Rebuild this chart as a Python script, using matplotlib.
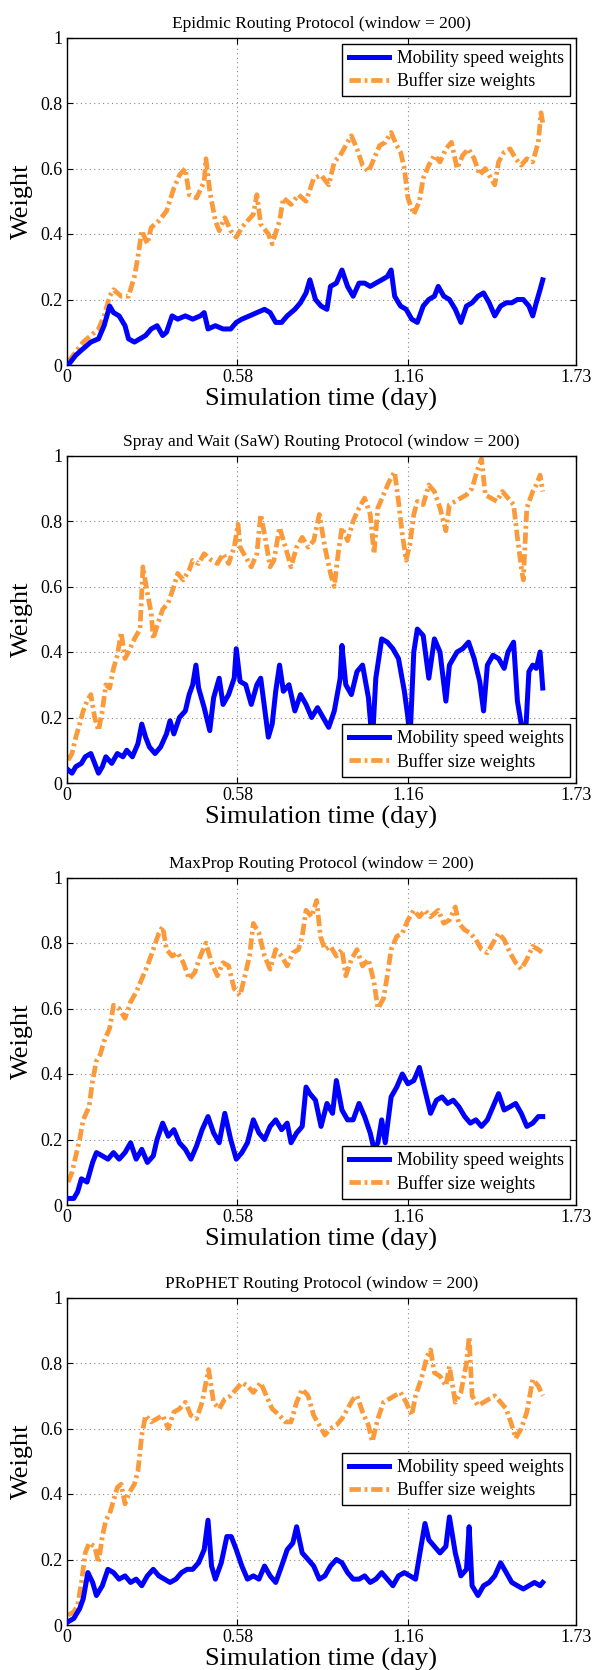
import matplotlib
matplotlib.use("Agg")
import matplotlib.pyplot as plt

# ---------------- data (time in days, weight) ----------------
titles = [
    "Epidmic Routing Protocol (window = 200)",
    "Spray and Wait (SaW) Routing Protocol (window = 200)",
    "MaxProp Routing Protocol (window = 200)",
    "PRoPHET Routing Protocol (window = 200)",
]
series_labels = ["Mobility speed weights", "Buffer size weights"]
x_ticks = [0, 0.58, 1.16, 1.73]
y_ticks = [0, 0.2, 0.4, 0.6, 0.8, 1.0]
y_tick_labels = ["0", "0.2", "0.4", "0.6", "0.8", "1"]

epi_mobility = [
    (0.005, 0.00), (0.031, 0.03), (0.056, 0.05), (0.082, 0.07), (0.108, 0.08), (0.127, 0.12),
    (0.146, 0.18), (0.159, 0.16), (0.178, 0.15), (0.198, 0.12), (0.210, 0.08), (0.230, 0.07),
    (0.249, 0.08), (0.268, 0.09), (0.287, 0.11), (0.307, 0.12), (0.326, 0.09), (0.339, 0.10),
    (0.358, 0.15), (0.377, 0.14), (0.403, 0.15), (0.428, 0.14), (0.454, 0.15), (0.467, 0.16),
    (0.480, 0.11), (0.505, 0.12), (0.531, 0.11), (0.557, 0.11), (0.576, 0.13), (0.595, 0.14),
    (0.621, 0.15), (0.646, 0.16), (0.672, 0.17), (0.691, 0.16), (0.710, 0.13), (0.730, 0.13),
    (0.749, 0.15), (0.775, 0.17), (0.794, 0.19), (0.813, 0.22), (0.826, 0.26), (0.845, 0.20),
    (0.864, 0.18), (0.884, 0.17), (0.896, 0.24), (0.916, 0.25), (0.935, 0.29), (0.954, 0.24),
    (0.973, 0.21), (0.993, 0.25), (1.012, 0.25), (1.031, 0.24), (1.050, 0.25), (1.070, 0.26),
    (1.089, 0.27), (1.102, 0.29), (1.114, 0.21), (1.134, 0.18), (1.153, 0.17), (1.172, 0.14),
    (1.191, 0.13), (1.211, 0.18), (1.230, 0.20), (1.249, 0.21), (1.262, 0.24), (1.281, 0.21),
    (1.300, 0.20), (1.320, 0.17), (1.339, 0.13), (1.358, 0.18), (1.377, 0.19), (1.397, 0.21),
    (1.416, 0.22), (1.435, 0.19), (1.454, 0.15), (1.474, 0.18), (1.493, 0.19), (1.512, 0.19),
    (1.531, 0.20), (1.551, 0.20), (1.570, 0.18), (1.583, 0.15), (1.595, 0.19), (1.608, 0.23),
    (1.617, 0.26),
]
epi_buffer = [
    (0.005, 0.01), (0.031, 0.04), (0.056, 0.07), (0.082, 0.09), (0.108, 0.11), (0.127, 0.15),
    (0.146, 0.21), (0.159, 0.23), (0.185, 0.21), (0.210, 0.21), (0.230, 0.27), (0.242, 0.33),
    (0.255, 0.41), (0.274, 0.37), (0.287, 0.42), (0.313, 0.44), (0.339, 0.47), (0.364, 0.54),
    (0.383, 0.58), (0.403, 0.60), (0.416, 0.52), (0.441, 0.51), (0.467, 0.56), (0.473, 0.63),
    (0.486, 0.53), (0.505, 0.44), (0.518, 0.41), (0.537, 0.45), (0.557, 0.41), (0.576, 0.39),
    (0.595, 0.42), (0.614, 0.44), (0.634, 0.46), (0.646, 0.52), (0.659, 0.43), (0.685, 0.40),
    (0.698, 0.37), (0.723, 0.44), (0.736, 0.51), (0.762, 0.49), (0.787, 0.52), (0.813, 0.50),
    (0.839, 0.57), (0.864, 0.58), (0.890, 0.55), (0.909, 0.62), (0.929, 0.64), (0.948, 0.67),
    (0.967, 0.70), (0.986, 0.66), (1.005, 0.61), (1.025, 0.59), (1.044, 0.63), (1.063, 0.67),
    (1.082, 0.68), (1.102, 0.71), (1.121, 0.67), (1.134, 0.65), (1.147, 0.60), (1.159, 0.51),
    (1.179, 0.46), (1.198, 0.50), (1.211, 0.57), (1.230, 0.61), (1.249, 0.64), (1.268, 0.62),
    (1.288, 0.66), (1.307, 0.68), (1.326, 0.60), (1.345, 0.64), (1.365, 0.66), (1.384, 0.63),
    (1.403, 0.58), (1.422, 0.60), (1.441, 0.57), (1.454, 0.55), (1.467, 0.62), (1.486, 0.65),
    (1.506, 0.66), (1.525, 0.63), (1.544, 0.61), (1.563, 0.63), (1.583, 0.62), (1.602, 0.68),
    (1.611, 0.77), (1.617, 0.74),
]

saw_mobility = [
    (0.005, 0.04), (0.018, 0.03), (0.031, 0.05), (0.050, 0.06), (0.063, 0.08), (0.082, 0.09),
    (0.095, 0.06), (0.108, 0.03), (0.121, 0.05), (0.133, 0.08), (0.153, 0.06), (0.172, 0.09),
    (0.191, 0.08), (0.204, 0.10), (0.223, 0.08), (0.242, 0.12), (0.255, 0.18), (0.268, 0.14),
    (0.281, 0.11), (0.300, 0.09), (0.319, 0.11), (0.339, 0.15), (0.351, 0.19), (0.364, 0.15),
    (0.383, 0.20), (0.403, 0.22), (0.416, 0.27), (0.428, 0.30), (0.439, 0.36), (0.448, 0.29),
    (0.467, 0.23), (0.486, 0.16), (0.499, 0.26), (0.518, 0.32), (0.531, 0.24), (0.550, 0.27),
    (0.569, 0.32), (0.576, 0.41), (0.589, 0.31), (0.608, 0.30), (0.627, 0.24), (0.646, 0.30),
    (0.659, 0.32), (0.672, 0.23), (0.685, 0.14), (0.698, 0.18), (0.710, 0.28), (0.723, 0.36),
    (0.736, 0.28), (0.755, 0.30), (0.775, 0.22), (0.794, 0.27), (0.813, 0.24), (0.832, 0.20),
    (0.852, 0.23), (0.871, 0.20), (0.890, 0.17), (0.909, 0.22), (0.929, 0.32), (0.935, 0.42),
    (0.948, 0.30), (0.967, 0.27), (0.986, 0.34), (1.005, 0.36), (1.025, 0.26), (1.038, 0.12),
    (1.050, 0.32), (1.070, 0.44), (1.089, 0.43), (1.108, 0.41), (1.127, 0.38), (1.147, 0.28),
    (1.159, 0.20), (1.166, 0.13), (1.179, 0.40), (1.191, 0.47), (1.211, 0.45), (1.230, 0.32),
    (1.249, 0.44), (1.268, 0.40), (1.288, 0.25), (1.300, 0.36), (1.326, 0.40), (1.345, 0.41),
    (1.365, 0.43), (1.384, 0.38), (1.403, 0.31), (1.416, 0.22), (1.429, 0.36), (1.448, 0.39),
    (1.467, 0.38), (1.486, 0.35), (1.499, 0.40), (1.518, 0.43), (1.531, 0.25), (1.544, 0.18),
    (1.557, 0.12), (1.570, 0.34), (1.583, 0.36), (1.595, 0.35), (1.608, 0.40), (1.617, 0.29),
]
saw_buffer = [
    (0.005, 0.07), (0.018, 0.09), (0.031, 0.14), (0.044, 0.18), (0.056, 0.22), (0.069, 0.25),
    (0.082, 0.27), (0.095, 0.20), (0.108, 0.16), (0.121, 0.22), (0.133, 0.30), (0.146, 0.29),
    (0.159, 0.35), (0.172, 0.39), (0.185, 0.46), (0.198, 0.38), (0.210, 0.40), (0.230, 0.44),
    (0.249, 0.47), (0.259, 0.66), (0.274, 0.58), (0.287, 0.52), (0.294, 0.44), (0.307, 0.48),
    (0.326, 0.53), (0.345, 0.55), (0.364, 0.60), (0.377, 0.64), (0.396, 0.62), (0.416, 0.65),
    (0.428, 0.68), (0.448, 0.67), (0.467, 0.70), (0.492, 0.68), (0.512, 0.67), (0.531, 0.70),
    (0.550, 0.67), (0.569, 0.72), (0.582, 0.79), (0.589, 0.72), (0.608, 0.69), (0.627, 0.66),
    (0.646, 0.70), (0.659, 0.82), (0.672, 0.76), (0.691, 0.66), (0.704, 0.68), (0.723, 0.78),
    (0.743, 0.72), (0.762, 0.66), (0.781, 0.72), (0.800, 0.75), (0.820, 0.72), (0.839, 0.74),
    (0.858, 0.82), (0.877, 0.72), (0.896, 0.64), (0.909, 0.60), (0.922, 0.70), (0.935, 0.78),
    (0.954, 0.74), (0.973, 0.80), (0.993, 0.84), (1.012, 0.87), (1.031, 0.82), (1.044, 0.70),
    (1.057, 0.84), (1.076, 0.88), (1.095, 0.92), (1.114, 0.95), (1.127, 0.86), (1.140, 0.76),
    (1.153, 0.68), (1.166, 0.73), (1.179, 0.82), (1.191, 0.86), (1.211, 0.85), (1.230, 0.91),
    (1.249, 0.89), (1.268, 0.84), (1.288, 0.77), (1.300, 0.85), (1.320, 0.86), (1.339, 0.87),
    (1.358, 0.88), (1.377, 0.90), (1.393, 0.95), (1.409, 0.99), (1.422, 0.88), (1.441, 0.87),
    (1.461, 0.86), (1.480, 0.89), (1.499, 0.87), (1.518, 0.85), (1.531, 0.75), (1.544, 0.66),
    (1.551, 0.62), (1.563, 0.84), (1.583, 0.89), (1.595, 0.91), (1.608, 0.94), (1.617, 0.89),
]

maxprop_mobility = [
    (0.005, 0.02), (0.024, 0.02), (0.037, 0.04), (0.050, 0.08), (0.069, 0.07), (0.088, 0.13),
    (0.101, 0.16), (0.121, 0.15), (0.140, 0.14), (0.159, 0.16), (0.178, 0.14), (0.198, 0.16),
    (0.217, 0.19), (0.236, 0.14), (0.255, 0.17), (0.274, 0.13), (0.294, 0.15), (0.307, 0.20),
    (0.326, 0.25), (0.345, 0.21), (0.364, 0.23), (0.383, 0.19), (0.403, 0.17), (0.422, 0.14),
    (0.441, 0.18), (0.460, 0.23), (0.480, 0.27), (0.499, 0.22), (0.518, 0.19), (0.537, 0.28),
    (0.557, 0.20), (0.576, 0.14), (0.595, 0.16), (0.614, 0.19), (0.634, 0.26), (0.653, 0.22),
    (0.672, 0.20), (0.691, 0.24), (0.710, 0.26), (0.730, 0.23), (0.749, 0.25), (0.762, 0.19),
    (0.781, 0.22), (0.800, 0.24), (0.813, 0.36), (0.826, 0.34), (0.845, 0.32), (0.864, 0.24),
    (0.884, 0.31), (0.903, 0.28), (0.916, 0.38), (0.935, 0.29), (0.954, 0.26), (0.973, 0.26),
    (0.993, 0.31), (1.012, 0.27), (1.031, 0.22), (1.044, 0.17), (1.057, 0.19), (1.070, 0.26),
    (1.082, 0.19), (1.102, 0.33), (1.121, 0.36), (1.140, 0.40), (1.159, 0.37), (1.179, 0.38),
    (1.198, 0.42), (1.217, 0.35), (1.236, 0.28), (1.256, 0.32), (1.275, 0.33), (1.294, 0.31),
    (1.313, 0.32), (1.332, 0.30), (1.352, 0.27), (1.371, 0.25), (1.390, 0.26), (1.409, 0.24),
    (1.429, 0.26), (1.448, 0.30), (1.467, 0.34), (1.486, 0.29), (1.506, 0.30), (1.525, 0.31),
    (1.544, 0.28), (1.563, 0.24), (1.583, 0.25), (1.602, 0.27), (1.617, 0.27),
]
maxprop_buffer = [
    (0.005, 0.07), (0.018, 0.10), (0.031, 0.15), (0.044, 0.20), (0.056, 0.26), (0.076, 0.30),
    (0.088, 0.38), (0.101, 0.44), (0.114, 0.46), (0.127, 0.50), (0.146, 0.54), (0.159, 0.61),
    (0.178, 0.60), (0.198, 0.57), (0.217, 0.62), (0.236, 0.65), (0.255, 0.69), (0.274, 0.73),
    (0.294, 0.78), (0.313, 0.83), (0.326, 0.85), (0.339, 0.78), (0.358, 0.76), (0.377, 0.77),
    (0.396, 0.74), (0.416, 0.69), (0.435, 0.71), (0.454, 0.76), (0.473, 0.80), (0.492, 0.74),
    (0.512, 0.70), (0.531, 0.74), (0.550, 0.73), (0.569, 0.66), (0.589, 0.64), (0.608, 0.71),
    (0.621, 0.76), (0.634, 0.86), (0.653, 0.83), (0.672, 0.76), (0.691, 0.72), (0.710, 0.78),
    (0.730, 0.76), (0.749, 0.73), (0.768, 0.77), (0.787, 0.78), (0.800, 0.82), (0.813, 0.90),
    (0.832, 0.88), (0.849, 0.93), (0.862, 0.82), (0.877, 0.78), (0.896, 0.79), (0.916, 0.76),
    (0.935, 0.78), (0.948, 0.70), (0.967, 0.75), (0.986, 0.78), (1.005, 0.73), (1.025, 0.75),
    (1.044, 0.68), (1.057, 0.60), (1.076, 0.63), (1.089, 0.70), (1.102, 0.78), (1.121, 0.82),
    (1.140, 0.83), (1.159, 0.87), (1.179, 0.90), (1.198, 0.88), (1.217, 0.90), (1.236, 0.88),
    (1.262, 0.90), (1.281, 0.86), (1.300, 0.87), (1.320, 0.91), (1.332, 0.86), (1.352, 0.84),
    (1.371, 0.83), (1.390, 0.81), (1.409, 0.78), (1.429, 0.77), (1.448, 0.80), (1.467, 0.83),
    (1.486, 0.81), (1.506, 0.77), (1.525, 0.74), (1.544, 0.72), (1.563, 0.75), (1.583, 0.79),
    (1.602, 0.78), (1.617, 0.77),
]

prophet_mobility = [
    (0.005, 0.01), (0.024, 0.02), (0.044, 0.05), (0.056, 0.08), (0.072, 0.16), (0.088, 0.13),
    (0.101, 0.09), (0.121, 0.12), (0.140, 0.17), (0.159, 0.16), (0.178, 0.14), (0.198, 0.15),
    (0.217, 0.13), (0.236, 0.14), (0.255, 0.12), (0.274, 0.15), (0.294, 0.17), (0.313, 0.15),
    (0.332, 0.14), (0.351, 0.13), (0.371, 0.14), (0.390, 0.16), (0.409, 0.17), (0.428, 0.17),
    (0.448, 0.19), (0.467, 0.23), (0.480, 0.32), (0.492, 0.18), (0.505, 0.14), (0.525, 0.19),
    (0.544, 0.27), (0.559, 0.27), (0.576, 0.23), (0.595, 0.18), (0.614, 0.14), (0.634, 0.15),
    (0.653, 0.14), (0.672, 0.18), (0.691, 0.15), (0.710, 0.13), (0.730, 0.18), (0.749, 0.23),
    (0.768, 0.25), (0.781, 0.30), (0.800, 0.22), (0.820, 0.20), (0.839, 0.18), (0.858, 0.14),
    (0.877, 0.15), (0.896, 0.18), (0.916, 0.20), (0.935, 0.19), (0.954, 0.16), (0.973, 0.14),
    (0.993, 0.14), (1.012, 0.15), (1.031, 0.13), (1.050, 0.14), (1.070, 0.16), (1.089, 0.14),
    (1.108, 0.12), (1.127, 0.15), (1.147, 0.16), (1.166, 0.15), (1.185, 0.14), (1.198, 0.21),
    (1.217, 0.31), (1.230, 0.26), (1.249, 0.24), (1.268, 0.22), (1.288, 0.24), (1.300, 0.33),
    (1.320, 0.22), (1.339, 0.15), (1.358, 0.17), (1.367, 0.30), (1.377, 0.12), (1.397, 0.09),
    (1.416, 0.12), (1.435, 0.13), (1.454, 0.15), (1.474, 0.19), (1.493, 0.16), (1.512, 0.13),
    (1.531, 0.12), (1.551, 0.11), (1.570, 0.12), (1.589, 0.13), (1.608, 0.12), (1.617, 0.13),
]
prophet_buffer = [
    (0.005, 0.03), (0.024, 0.04), (0.037, 0.06), (0.050, 0.13), (0.063, 0.22), (0.076, 0.25),
    (0.095, 0.24), (0.108, 0.19), (0.121, 0.27), (0.133, 0.32), (0.146, 0.34), (0.159, 0.38),
    (0.172, 0.42), (0.185, 0.43), (0.198, 0.37), (0.210, 0.40), (0.230, 0.43), (0.242, 0.47),
    (0.255, 0.58), (0.268, 0.64), (0.287, 0.62), (0.307, 0.63), (0.326, 0.64), (0.345, 0.60),
    (0.364, 0.65), (0.383, 0.66), (0.403, 0.68), (0.422, 0.64), (0.441, 0.63), (0.460, 0.68),
    (0.473, 0.74), (0.482, 0.78), (0.499, 0.68), (0.518, 0.66), (0.537, 0.69), (0.557, 0.70),
    (0.576, 0.72), (0.595, 0.74), (0.614, 0.73), (0.634, 0.71), (0.659, 0.74), (0.678, 0.70),
    (0.698, 0.66), (0.723, 0.64), (0.743, 0.62), (0.762, 0.62), (0.781, 0.68), (0.800, 0.72),
    (0.820, 0.70), (0.839, 0.64), (0.858, 0.61), (0.877, 0.58), (0.896, 0.60), (0.916, 0.61),
    (0.935, 0.63), (0.954, 0.66), (0.973, 0.69), (0.986, 0.70), (1.005, 0.65), (1.025, 0.61),
    (1.038, 0.56), (1.057, 0.63), (1.076, 0.68), (1.095, 0.69), (1.114, 0.70), (1.134, 0.71),
    (1.153, 0.68), (1.172, 0.64), (1.185, 0.70), (1.204, 0.75), (1.224, 0.82), (1.236, 0.84),
    (1.249, 0.77), (1.268, 0.76), (1.288, 0.73), (1.300, 0.79), (1.320, 0.68), (1.339, 0.71),
    (1.358, 0.80), (1.367, 0.88), (1.377, 0.70), (1.397, 0.67), (1.416, 0.68), (1.435, 0.69),
    (1.454, 0.70), (1.474, 0.68), (1.493, 0.66), (1.512, 0.61), (1.525, 0.57), (1.544, 0.60),
    (1.563, 0.65), (1.583, 0.75), (1.602, 0.73), (1.617, 0.70),
]

panels = [
    (epi_mobility, epi_buffer, "upper right", (1.0, 1.0)),
    (saw_mobility, saw_buffer, "lower right", (1.0, 0.0)),
    (maxprop_mobility, maxprop_buffer, "lower right", (1.0, 0.0)),
    (prophet_mobility, prophet_buffer, "upper right", (1.0, 0.545)),
]

# ---------------- styling ----------------
plt.rcParams["font.family"] = ["Liberation Serif", "DejaVu Serif"]
plt.rcParams["mathtext.fontset"] = "stix"

BLUE = "#0000FF"
ORANGE = "#FA9A3A"

fig = plt.figure(figsize=(5.92, 16.70), dpi=100)

ax_left = 66.7 / 592
ax_width = (576.0 - 66.7) / 592
ax_height = 327.5 / 1670
ax_bottoms = [1 - 365 / 1670, 1 - 783 / 1670, 1 - 1205 / 1670, 1 - 1625 / 1670]

for i, (mob, buf, loc, anchor) in enumerate(panels):
    ax = fig.add_axes([ax_left, ax_bottoms[i], ax_width, ax_height])
    tm, wm = zip(*mob)
    tb, wb = zip(*buf)
    ax.plot(tm, wm, color=BLUE, lw=3.6, solid_joinstyle="round",
            label=series_labels[0], zorder=3)
    ax.plot(tb, wb, color=ORANGE, lw=3.4, linestyle=(0, (2.4, 0.8, 0.6, 0.8)),
            label=series_labels[1], zorder=2)

    ax.set_xlim(0, 1.73)
    ax.set_ylim(0, 1)
    ax.set_xticks(x_ticks)
    ax.set_xticklabels(["0", "0.58", "1.16", "1.73"])
    ax.set_yticks(y_ticks)
    ax.set_yticklabels(y_tick_labels)
    ax.tick_params(direction="in", top=True, right=True, length=4, width=0.8,
                   labelsize=13, pad=3)
    ax.grid(True, color="#888888", linestyle=(0, (1, 3)), linewidth=0.8)
    for sp in ax.spines.values():
        sp.set_linewidth(1.0)

    ax.set_title(titles[i], fontsize=12.5, pad=7)
    ax.set_xlabel("Simulation time (day)", fontsize=19, labelpad=1)
    ax.set_ylabel("Weight", fontsize=19, labelpad=5)

    leg = ax.legend(loc=loc, bbox_to_anchor=anchor, fontsize=12.8, frameon=True,
                    fancybox=False, framealpha=1, edgecolor="black",
                    borderaxespad=0.35, handlelength=2.3, borderpad=0.35,
                    labelspacing=0.3, handletextpad=0.4)
    leg.get_frame().set_linewidth(1.0)

fig.savefig("out.png", dpi=100)
